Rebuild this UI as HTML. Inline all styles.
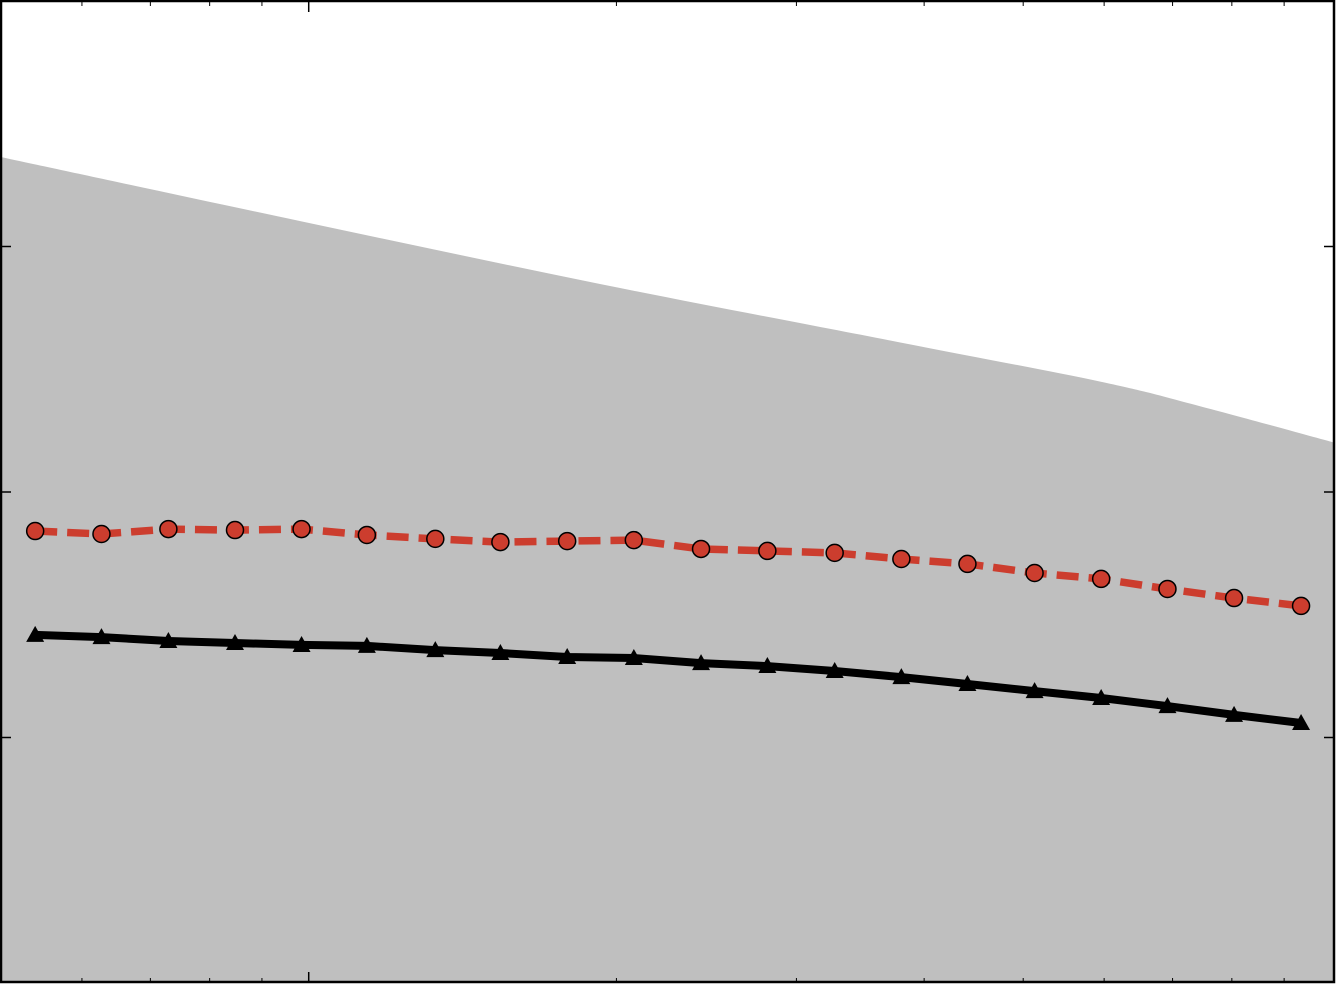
<!DOCTYPE html>
<html><head><meta charset="utf-8"><style>
html,body{margin:0;padding:0;background:#fff;}
svg{display:block;}
</style></head><body>
<svg id="chart" width="1336" height="984" xmlns="http://www.w3.org/2000/svg">
<g id="area"></g>
<g id="series"></g>
<g id="axes"></g>
</svg>
<script>
const xValues = [5.40, 6.27, 7.29, 8.47, 9.84, 11.4, 13.3, 15.4, 17.9, 20.8, 24.2, 28.1, 32.7, 38.0, 44.1, 51.3, 59.6, 69.2, 80.4, 93.5];
const redValues = [1.841,1.829,1.849,1.845,1.849,1.825,1.809,1.796,1.800,1.804,1.768,1.760,1.752,1.727,1.707,1.670,1.646,1.605,1.568,1.536];
const blackValues = [1.418,1.409,1.393,1.385,1.377,1.373,1.356,1.344,1.328,1.324,1.303,1.291,1.271,1.246,1.218,1.189,1.161,1.128,1.092,1.059];
const bandX = [4.99, 9.8, 19.3, 37.8, 59.4, 74.4, 101];
const bandTop = [3.365, 3.104, 2.847, 2.61, 2.45, 2.35, 2.20];
const yTicks = [1, 2, 3];
const xMajorTicks = [10];
const xMinorTicks = [6,7,8,9,20,30,40,50,60,70,80,90];

const NS = 'http://www.w3.org/2000/svg';
const L = 1, R = 1334, T = 1, B = 983;
const xMin = 5, xMax = 100.7, yMin = 0, yMax = 4;
function sx(v){ return L + (Math.log10(v) - Math.log10(xMin)) / (Math.log10(xMax) - Math.log10(xMin)) * (R - L); }
function sy(v){ return B - (v - yMin) / (yMax - yMin) * (B - T); }
function mk(tag, attrs, parent){ const e = document.createElementNS(NS, tag); for (const k in attrs) e.setAttribute(k, attrs[k]); parent.appendChild(e); return e; }

const area = document.getElementById('area');
const bp = bandX.map((x, i) => [sx(x), sy(bandTop[i])]);
let d = 'M' + L + ',' + B + ' L' + bp[0][0].toFixed(1) + ',' + bp[0][1].toFixed(1);
for (let i = 0; i < bp.length - 1; i++) {
  const p0 = bp[Math.max(0, i-1)], p1 = bp[i], p2 = bp[i+1], p3 = bp[Math.min(bp.length-1, i+2)];
  const c1 = [p1[0] + (p2[0]-p0[0])/6, p1[1] + (p2[1]-p0[1])/6];
  const c2 = [p2[0] - (p3[0]-p1[0])/6, p2[1] - (p3[1]-p1[1])/6];
  d += ` C${c1[0].toFixed(1)},${c1[1].toFixed(1)} ${c2[0].toFixed(1)},${c2[1].toFixed(1)} ${p2[0].toFixed(1)},${p2[1].toFixed(1)}`;
}
d += ' L' + R + ',' + bp[bp.length-1][1].toFixed(1) + ' L' + R + ',' + B + ' Z';
const band = mk('path', {d: d, fill: '#bfbfbf'}, area);



const series = document.getElementById('series');
const bPts = xValues.map((x, i) => sx(x).toFixed(1) + ',' + sy(blackValues[i]).toFixed(1)).join(' ');
const bl = mk('polyline', {points: bPts, fill: 'none', stroke: '#000', 'stroke-width': 8}, series);


xValues.forEach((x, i) => {
  const cx = sx(x), cy = sy(blackValues[i]);
  const t = mk('polygon', {points: `${cx},${cy-9} ${cx-9},${cy+7} ${cx+9},${cy+7}`, fill: '#000'}, series);
  
  
});
const rPts = xValues.map((x, i) => sx(x).toFixed(1) + ',' + sy(redValues[i]).toFixed(1)).join(' ');
const rl = mk('polyline', {points: rPts, fill: 'none', stroke: '#cc3d2e', 'stroke-width': 7.5, 'stroke-dasharray': '22,10'}, series);


xValues.forEach((x, i) => {
  const c = mk('circle', {cx: sx(x), cy: sy(redValues[i]), r: 8.5, fill: '#cc3d2e', stroke: '#000', 'stroke-width': 1.5}, series);
  
  
});

const axes = document.getElementById('axes');
const fr = mk('rect', {x: 1, y: 1, width: 1333, height: 981, fill: 'none', stroke: '#000', 'stroke-width': 2.5}, axes);


yTicks.forEach(v => {
  const y = sy(v);
  const a = mk('line', {x1: L, x2: L + 10, y1: y, y2: y, stroke: '#000', 'stroke-width': 1.5}, axes);
  
  
  const b = mk('line', {x1: R - 10, x2: R, y1: y, y2: y, stroke: '#000', 'stroke-width': 1.5}, axes);
  
  
});
function xt(v, len, w){
  const x = sx(v);
  const a = mk('line', {x1: x, x2: x, y1: B, y2: B - len, stroke: '#000', 'stroke-width': w}, axes);
  
  
  const b = mk('line', {x1: x, x2: x, y1: T, y2: T + len, stroke: '#000', 'stroke-width': w}, axes);
  
  
}
xMajorTicks.forEach(v => xt(v, 11, 1.5));
xMinorTicks.forEach(v => xt(v, 5, 1));
</script>
</body></html>
